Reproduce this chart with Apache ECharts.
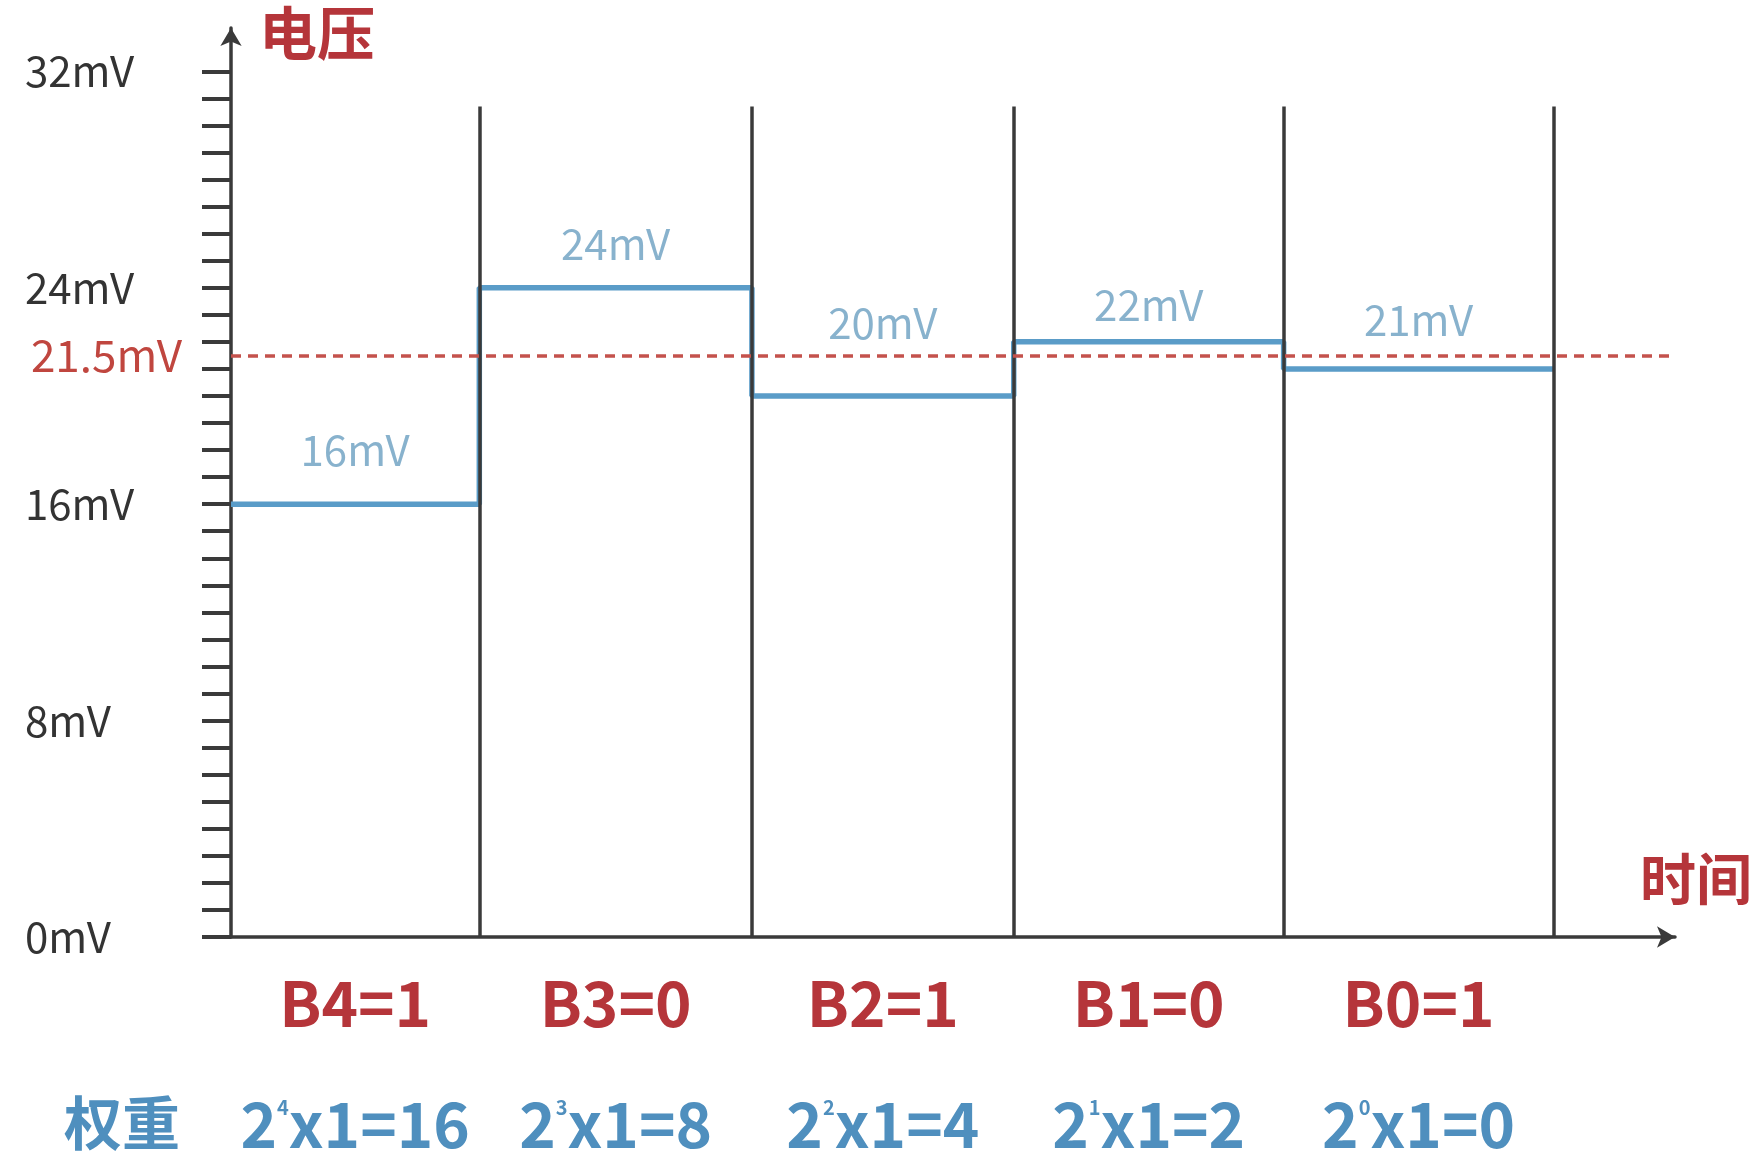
<!DOCTYPE html>
<html>
<head>
<meta charset="utf-8">
<title>电压 - 时间</title>
<script src="https://cdn.jsdelivr.net/npm/echarts@6/dist/echarts.min.js"></script>
<style>
  html, body { margin: 0; padding: 0; background: #fff; }
  #chart { width: 1763px; height: 1155px; }
</style>
</head>
<body>
<div id="chart"></div>
<script>
// step boundaries on the time axis, and the voltage held in each step (mV)
const stepEdges = [0, 0.92, 1.93, 2.9, 3.9, 4.9]
const levels = [16, 24, 20, 22, 21]
const bitNames = ['B4=1', 'B3=0', 'B2=1', 'B1=0', 'B0=1']
const weightPowers = [4, 3, 2, 1, 0]
const weightResults = ['x1=16', 'x1=8', 'x1=4', 'x1=2', 'x1=0']
const threshold = 21.5
const yLabelValues = [0, 8, 16, 24, 32]
const yTickValues = [0, 1, 2, 3, 4, 5, 6, 7, 8, 9, 10, 11, 12, 13, 14, 15, 16,
  17, 18, 19, 20, 21, 22, 23, 24, 25, 26, 27, 28, 29, 30, 31, 32]
const dividerTop = 30.7

// how far (px) each value label sits above its step
const valueLabelLift = [54, 44, 73, 37, 49]

const FONT = 'Noto Sans CJK SC'
const RED = '#b5353a'
const BLUE = '#4f8fbe'
const AXIS = '#3a3a3a'

const centers = levels.map((v, i) => (stepEdges[i] + stepEdges[i + 1]) / 2)

const stepData = levels.map((v, i) => [stepEdges[i], v])
stepData.push([stepEdges[stepEdges.length - 1], levels[levels.length - 1]])

const chart = echarts.init(document.getElementById('chart'))

const option = {
  backgroundColor: '#fff',
  animation: false,
  textStyle: { fontFamily: FONT },
  grid: { left: 231, right: 88, top: 28, bottom: 218, outerBoundsMode: 'none' },
  xAxis: {
    type: 'value',
    min: 0,
    max: 5.35,
    name: '时间',
    nameLocation: 'end',
    nameGap: 77,
    nameTextStyle: {
      color: RED, fontSize: 56, fontWeight: 'bold', fontFamily: FONT,
      align: 'right', verticalAlign: 'bottom', padding: [0, 0, 30, 0]
    },
    axisLine: {
      lineStyle: { color: AXIS, width: 3.5 },
      symbol: ['none', 'arrow'],
      symbolSize: [16, 18]
    },
    axisTick: { show: false },
    splitLine: { show: false },
    axisLabel: {
      customValues: centers,
      margin: 6,
      formatter: (val) => {
        let k = 0
        centers.forEach((c, i) => { if (Math.abs(c - val) < Math.abs(centers[k] - val)) k = i })
        return '{b|' + bitNames[k] + '}\n{w|2}{s|' + weightPowers[k] + '}{w|' + weightResults[k] + '}'
      },
      rich: {
        b: { color: RED, fontSize: 62, fontWeight: 'bold', lineHeight: 121, fontFamily: FONT },
        w: { color: BLUE, fontSize: 62, fontWeight: 'bold', lineHeight: 121, fontFamily: FONT },
        s: { color: BLUE, fontSize: 20, fontWeight: 'bold', lineHeight: 121, fontFamily: FONT, padding: [0, 0, 34, 0] }
      }
    }
  },
  yAxis: {
    type: 'value',
    min: 0,
    max: 33.6,
    name: '电压',
    nameLocation: 'end',
    nameGap: 24,
    nameTextStyle: {
      color: RED, fontSize: 58, fontWeight: 'bold', fontFamily: FONT,
      align: 'left', verticalAlign: 'top', padding: [0, 0, 0, 28]
    },
    axisLine: {
      lineStyle: { color: AXIS, width: 3.5 },
      symbol: ['none', 'arrow'],
      symbolSize: [16, 18]
    },
    axisTick: {
      customValues: yTickValues,
      length: 29,
      lineStyle: { color: AXIS, width: 4 }
    },
    splitLine: { show: false },
    axisLabel: {
      customValues: yLabelValues,
      align: 'left',
      margin: 206,
      color: '#333',
      fontSize: 42,
      fontFamily: FONT,
      formatter: v => v + 'mV'
    }
  },
  graphic: [
    {
      type: 'text',
      left: 64,
      top: 1094,
      style: { text: '权重', fill: BLUE, fontSize: 58, fontWeight: 'bold', fontFamily: FONT }
    }
  ],
  series: [
    {
      // time-slot dividers
      type: 'line',
      data: [],
      z: 1,
      markLine: {
        silent: true,
        symbol: ['none', 'none'],
        label: { show: false },
        lineStyle: { color: AXIS, width: 3.5, type: 'solid' },
        data: stepEdges.slice(1).map(e => [{ coord: [e, 0] }, { coord: [e, dividerTop] }])
      }
    },
    {
      type: 'line',
      step: 'end',
      data: stepData,
      symbol: 'none',
      z: 3,
      lineStyle: { color: '#5a9cc8', width: 5.5 },
      markLine: {
        silent: true,
        symbol: ['none', 'none'],
        lineStyle: { color: '#c4524c', width: 3.5, type: [10, 7] },
        label: {
          show: true,
          position: 'start',
          distance: 49,
          formatter: threshold + 'mV',
          color: '#c0463f',
          fontSize: 44,
          fontFamily: FONT
        },
        data: [{ yAxis: threshold }]
      }
    },
    {
      type: 'scatter',
      symbolSize: 1,
      itemStyle: { color: 'transparent' },
      z: 4,
      data: levels.map((v, i) => ({
        value: [centers[i], v],
        label: {
          show: true,
          position: 'inside',
          offset: [0, -valueLabelLift[i]],
          formatter: v + 'mV',
          color: '#6a9fc0',
          fontSize: 42,
          fontFamily: FONT
        }
      }))
    }
  ]
}

chart.setOption(option)
</script>
</body>
</html>
